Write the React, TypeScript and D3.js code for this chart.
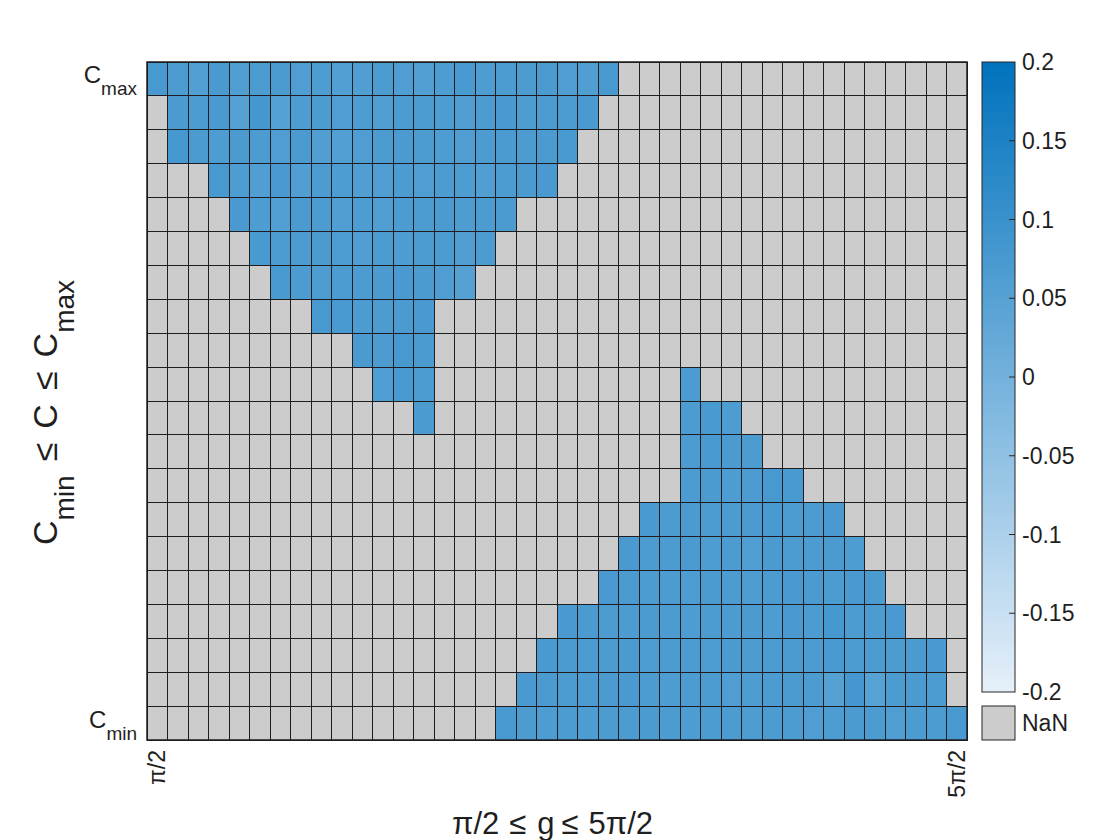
import React from "react";
import * as d3 from "d3";

// ---- data ----
const nCols = 40;
const nRows = 20;
const xTickLabels = ["π/2", "5π/2"];
const xTickCols = [0, 39];
const colorTicks = [0.2, 0.15, 0.1, 0.05, 0, -0.05, -0.1, -0.15, -0.2];
const colorDomain = [-0.2, 0.2];

// each row (top = Cmax) : list of segments [startColumn, values]
const row0: [number, number[]][] = [[0, [0.075,0.068,0.058,0.072,0.060,0.066,0.070,0.062,0.064,0.058,0.060,0.066,0.062,0.058,0.064,0.074,0.064,0.068,0.066,0.070,0.062,0.060,0.076]]];
const row1: [number, number[]][] = [[1, [0.070,0.068,0.072,0.050,0.082,0.052,0.064,0.066,0.062,0.064,0.060,0.066,0.068,0.064,0.062,0.066,0.072,0.064,0.068,0.066,0.072]]];
const row2: [number, number[]][] = [[1, [0.078,0.070,0.064,0.070,0.066,0.062,0.070,0.060,0.058,0.062,0.066,0.070,0.066,0.064,0.062,0.068,0.070,0.066,0.070,0.074]]];
const row3: [number, number[]][] = [[3, [0.076,0.064,0.060,0.072,0.060,0.068,0.064,0.060,0.062,0.066,0.062,0.068,0.064,0.060,0.068,0.070,0.072]]];
const row4: [number, number[]][] = [[4, [0.072,0.064,0.058,0.070,0.068,0.060,0.064,0.062,0.066,0.068,0.070,0.064,0.066,0.070]]];
const row5: [number, number[]][] = [[5, [0.074,0.068,0.066,0.070,0.064,0.060,0.066,0.064,0.068,0.066,0.062,0.068]]];
const row6: [number, number[]][] = [[6, [0.074,0.068,0.064,0.068,0.066,0.070,0.072,0.070,0.062,0.052]]];
const row7: [number, number[]][] = [[8, [0.076,0.074,0.066,0.068,0.070,0.072]]];
const row8: [number, number[]][] = [[10, [0.070,0.068,0.076,0.070]]];
const row9: [number, number[]][] = [[11, [0.062,0.074,0.068]], [26, [0.068]]];
const row10: [number, number[]][] = [[13, [0.070]], [26, [0.066,0.074,0.064]]];
const row11: [number, number[]][] = [[26, [0.068,0.074,0.070,0.068]]];
const row12: [number, number[]][] = [[26, [0.066,0.070,0.064,0.068,0.076,0.074]]];
const row13: [number, number[]][] = [[24, [0.074,0.066,0.070,0.068,0.066,0.070,0.074,0.066,0.068,0.072]]];
const row14: [number, number[]][] = [[23, [0.072,0.068,0.066,0.070,0.064,0.068,0.062,0.070,0.066,0.068,0.070,0.064]]];
const row15: [number, number[]][] = [[22, [0.072,0.070,0.066,0.068,0.064,0.070,0.066,0.064,0.068,0.072,0.070,0.066,0.072,0.070]]];
const row16: [number, number[]][] = [[20, [0.072,0.070,0.066,0.068,0.070,0.066,0.064,0.068,0.066,0.070,0.064,0.072,0.066,0.078,0.066,0.068,0.072]]];
const row17: [number, number[]][] = [[19, [0.074,0.070,0.068,0.066,0.070,0.064,0.068,0.066,0.064,0.070,0.068,0.066,0.070,0.066,0.076,0.068,0.068,0.066,0.070,0.072]]];
const row18: [number, number[]][] = [[18, [0.072,0.070,0.066,0.068,0.070,0.072,0.066,0.064,0.068,0.066,0.062,0.064,0.068,0.070,0.066,0.050,0.080,0.048,0.066,0.070,0.068]]];
const row19: [number, number[]][] = [[17, [0.074,0.066,0.064,0.066,0.064,0.068,0.066,0.070,0.068,0.064,0.066,0.068,0.064,0.066,0.068,0.062,0.064,0.070,0.066,0.062,0.066,0.068,0.076]]];

const rows = [row0,row1,row2,row3,row4,row5,row6,row7,row8,row9,row10,row11,row12,row13,row14,row15,row16,row17,row18,row19];

// build full matrix with null = NaN
const Z: (number | null)[][] = rows.map((segs) => {
  const r: (number | null)[] = new Array(nCols).fill(null);
  segs.forEach(([s, vals]) => vals.forEach((v, i) => (r[s + i] = v)));
  return r;
});

const FONT = "'Liberation Sans', Arial, Helvetica, sans-serif";
const INK = "#1f1f1f";

export default function App() {
  const left = 147, right = 967, top = 62, bottom = 740;
  const x = d3.scaleBand<number>().domain(d3.range(nCols)).range([left, right]);
  const y = d3.scaleBand<number>().domain(d3.range(nRows)).range([top, bottom]);
  const color = d3
    .scaleLinear<string>()
    .domain(colorDomain)
    .range(["#e6f0fa", "#0072bd"])
    .interpolate(d3.interpolateRgb);

  const cbX = 982, cbW = 33, cbTop = 62, cbBottom = 692;
  const cbY = d3.scaleLinear().domain(colorDomain).range([cbBottom, cbTop]);
  const stops = d3.range(0, 1.0001, 0.1);

  const cells: JSX.Element[] = [];
  Z.forEach((r, ri) =>
    r.forEach((v, ci) => {
      cells.push(
        <rect
          key={`${ri}-${ci}`}
          x={x(ci)}
          y={y(ri)}
          width={x.bandwidth()}
          height={y.bandwidth()}
          fill={v === null ? "#cccccc" : color(v)}
          stroke="#1e1e1e"
          strokeWidth={1}
        />
      );
    })
  );

  const rowMid = (i: number) => y(i)! + y.bandwidth() / 2;

  return (
    <svg
      width={1120}
      height={840}
      style={{ position: "absolute", left: 0, top: 0, background: "#fff" }}
      fontFamily={FONT}
    >
      <defs>
        <linearGradient id="cbgrad" x1="0" y1="1" x2="0" y2="0">
          {stops.map((t) => (
            <stop
              key={t}
              offset={t}
              stopColor={color(colorDomain[0] + t * (colorDomain[1] - colorDomain[0]))}
            />
          ))}
        </linearGradient>
      </defs>
      <rect width={1120} height={840} fill="#fff" />
      <g shapeRendering="crispEdges">{cells}</g>
      <rect x={left} y={top} width={right - left} height={bottom - top} fill="none" stroke="#1e1e1e" strokeWidth={1.5} />

      {/* y tick labels */}
      <text x={137} y={rowMid(0) + 4} textAnchor="end" fontSize={24} fill={INK}>
        C<tspan fontSize={19} dy={12}>max</tspan>
      </text>
      <text x={137} y={rowMid(nRows - 1) + 5} textAnchor="end" fontSize={24} fill={INK}>
        C<tspan fontSize={19} dy={12}>min</tspan>
      </text>

      {/* x tick labels */}
      {xTickLabels.map((lab, i) => {
        const cx = x(xTickCols[i])! + x.bandwidth() / 2;
        return (
          <text
            key={lab}
            transform={`translate(${cx + 8},750) rotate(-90)`}
            textAnchor="end"
            fontSize={23}
            fill={INK}
          >
            {lab}
          </text>
        );
      })}

      {/* axis titles */}
      <text x={452} y={834} textAnchor="start" fontSize={31} fill={INK}>
        π/2<tspan dx={10}>≤</tspan>
        <tspan dx={11}>g</tspan>
        <tspan dx={7}>≤</tspan>
        <tspan dx={10}>5π/2</tspan>
      </text>
      <text transform={`translate(57,545) rotate(-90)`} textAnchor="start" fontSize={34} fill={INK}>
        C<tspan fontSize={28} dy={17}>min</tspan>
        <tspan dx={14} dy={-17}>≤</tspan>
        <tspan dx={14}>C</tspan>
        <tspan dx={14}>≤</tspan>
        <tspan dx={14}>C</tspan>
        <tspan fontSize={28} dy={17}>max</tspan>
      </text>

      {/* colorbar */}
      <rect x={cbX} y={cbTop} width={cbW} height={cbBottom - cbTop} fill="url(#cbgrad)" stroke="#262626" strokeWidth={1} />
      {colorTicks.map((t) => (
        <g key={t}>
          {t !== 0.2 && t !== -0.2 && (
            <line x1={cbX + cbW - 6} x2={cbX + cbW} y1={cbY(t)} y2={cbY(t)} stroke="#262626" strokeWidth={1} />
          )}
          <text x={1022} y={cbY(t)} dy="0.35em" fontSize={23} fill={INK}>
            {String(t)}
          </text>
        </g>
      ))}
      <rect x={cbX} y={706} width={cbW} height={34} fill="#cccccc" stroke="#262626" strokeWidth={1} />
      <text x={1022} y={723} dy="0.35em" fontSize={23} fill={INK}>
        NaN
      </text>
    </svg>
  );
}
